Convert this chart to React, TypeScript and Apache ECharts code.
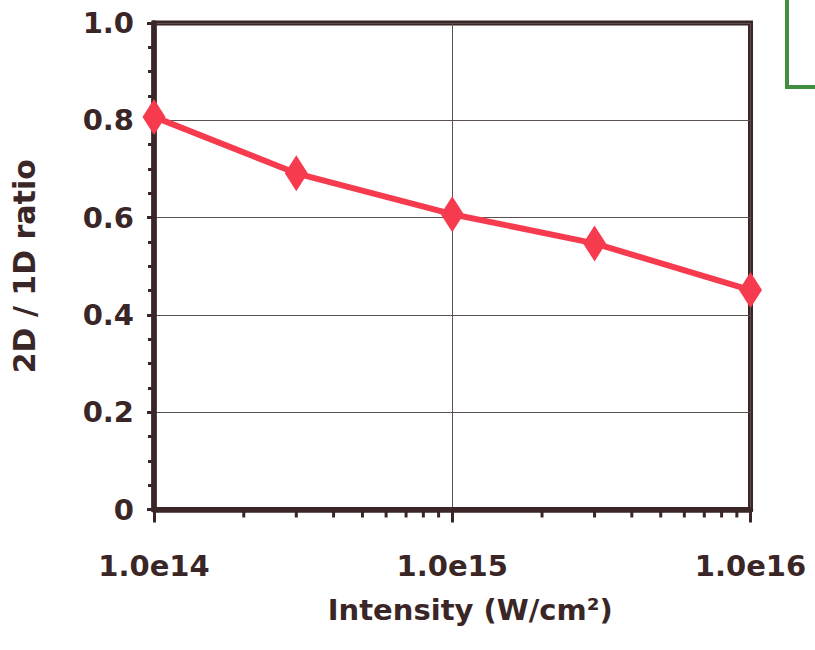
import React, { useEffect, useRef } from "react";
import * as echarts from "echarts";

// Laser intensity (W/cm²) and the measured 2D / 1D ratio
const intensities = [1e14, 3e14, 1e15, 3e15, 1e16];
const ratios = [0.807, 0.691, 0.607, 0.547, 0.451];

// Minor log ticks: 2..9 within each decade
const decades = [1e14, 1e15];
const minorMultipliers = [2, 3, 4, 5, 6, 7, 8, 9];
const minorTickValues = decades.flatMap((d) => minorMultipliers.map((m) => m * d));

const INK = "#3a2626";
const FONT = "DejaVu Sans";

export default function App() {
  const ref = useRef<HTMLDivElement>(null);

  useEffect(() => {
    if (!ref.current) return;
    const chart = echarts.init(ref.current, undefined, { renderer: "svg" });

    chart.setOption({
      animation: false,
      backgroundColor: "#ffffff",
      grid: {
        left: 154,
        right: 64.5,
        top: 23,
        bottom: 140.5,
        show: true,
        borderColor: INK,
        borderWidth: 5,
        backgroundColor: "transparent",
      },
      xAxis: {
        type: "log",
        logBase: 10,
        min: 1e14,
        max: 1e16,
        name: "Intensity (W/cm²)",
        nameLocation: "middle",
        nameGap: 86,
        nameTextStyle: {
          color: INK,
          fontFamily: FONT,
          fontWeight: "bold",
          fontSize: 29,
          padding: [0, 0, 0, 36],
        },
        axisLine: { show: true, lineStyle: { color: INK, width: 5.5 } },
        axisTick: { show: true, inside: false, length: 13, lineStyle: { color: INK, width: 3 } },
        minorTick: { show: false },
        splitLine: { show: true, lineStyle: { color: "#5a5050", width: 1 } },
        axisLabel: {
          color: INK,
          fontFamily: FONT,
          fontWeight: "bold",
          fontSize: 29,
          margin: 42,
          formatter: (v: number) => v.toExponential(1).replace("+", ""),
        },
      },
      yAxis: {
        type: "value",
        min: 0,
        max: 1,
        interval: 0.2,
        name: "2D / 1D ratio",
        nameLocation: "middle",
        nameRotate: 90,
        nameGap: 115,
        nameTextStyle: {
          color: INK,
          fontFamily: FONT,
          fontWeight: "bold",
          fontSize: 30,
        },
        axisLine: { show: true, lineStyle: { color: INK, width: 5.5 } },
        axisTick: { show: true, inside: false, length: 7, lineStyle: { color: INK, width: 3 } },
        minorTick: { show: true, splitNumber: 4, length: 6, lineStyle: { color: INK, width: 3 } },
        splitLine: { show: true, lineStyle: { color: "#5a5050", width: 1 } },
        axisLabel: {
          color: INK,
          fontFamily: FONT,
          fontWeight: "bold",
          fontSize: 29,
          margin: 20,
          formatter: (v: number) => (v === 0 ? "0" : v.toFixed(1)),
        },
      },
      graphic: [
        {
          type: "rect",
          shape: { x: 787, y: -10, width: 60, height: 97 },
          style: { fill: "none", stroke: "#3f8f3f", lineWidth: 4 },
          z: 10,
        },
      ],
      series: [
        {
          type: "custom",
          clip: false,
          silent: true,
          z: 1,
          data: minorTickValues.map((v) => [v, 0]),
          renderItem: (_params: any, api: any) => {
            const p = api.coord([api.value(0), api.value(1)]);
            return {
              type: "line",
              shape: { x1: p[0], y1: p[1], x2: p[0], y2: p[1] + 8 },
              style: { stroke: INK, lineWidth: 3 },
            };
          },
        },
        {
          type: "line",
          data: intensities.map((x, i) => [x, ratios[i]]),
          symbol: "diamond",
          symbolSize: [23, 36],
          lineStyle: { color: "#f73b4f", width: 6 },
          itemStyle: { color: "#f73b4f" },
          z: 5,
        },
      ],
    });

    return () => chart.dispose();
  }, []);

  return <div ref={ref} style={{ width: 815, height: 650, position: "absolute", left: 0, top: 0 }} />;
}
